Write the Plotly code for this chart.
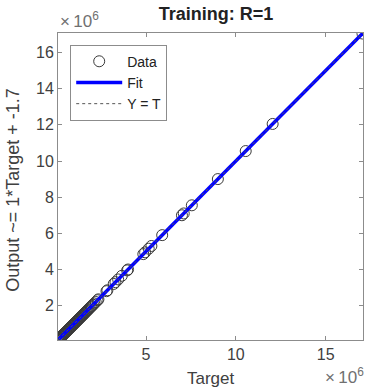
import plotly.graph_objects as go

# Data (values in units of 1e6)
targets = [0.10, 0.14, 0.18, 0.21, 0.25, 0.28, 0.31, 0.35, 0.38, 0.42, 0.45, 0.48,
           0.52, 0.55, 0.58, 0.62, 0.66, 0.70, 0.73, 0.77, 0.80, 0.84, 0.88, 0.91,
           0.95, 0.99, 1.02, 1.06, 1.10, 1.13, 1.17, 1.21, 1.25, 1.28, 1.32, 1.36,
           1.40, 1.44, 1.48, 1.52, 1.56, 1.60, 1.65, 1.70, 1.75, 1.80, 1.86, 1.92,
           1.98, 2.05, 2.12, 2.20, 2.30, 2.35, 2.80, 2.85, 3.20, 3.30, 3.45, 3.65,
           3.95, 4.00, 4.85, 4.95, 5.15, 5.30, 5.90, 7.00, 7.10, 7.55, 9.00, 10.55,
           12.05, 17.05]
outputs = [0.10, 0.14, 0.18, 0.21, 0.25, 0.28, 0.31, 0.35, 0.38, 0.42, 0.45, 0.48,
           0.52, 0.55, 0.58, 0.62, 0.66, 0.70, 0.73, 0.77, 0.80, 0.84, 0.88, 0.91,
           0.95, 0.99, 1.02, 1.06, 1.10, 1.13, 1.17, 1.21, 1.25, 1.28, 1.32, 1.36,
           1.40, 1.44, 1.48, 1.52, 1.56, 1.60, 1.65, 1.70, 1.75, 1.80, 1.86, 1.92,
           1.98, 2.05, 2.12, 2.20, 2.30, 2.35, 2.80, 2.85, 3.20, 3.30, 3.45, 3.65,
           3.95, 4.00, 4.85, 4.95, 5.15, 5.30, 5.90, 7.00, 7.10, 7.55, 9.00, 10.55,
           12.05, 17.05]
axis_min = 0.10
axis_max = 17.08
x_ticks = [5, 10, 15]
y_ticks = [2, 4, 6, 8, 10, 12, 14, 16]
scale = 1e6

xs = [v * scale for v in targets]
ys = [v * scale for v in outputs]
lim = [axis_min * scale, axis_max * scale]
slope, intercept = 1.0, -1.7

txt = "#404040"
font = "Liberation Sans, Arial, sans-serif"

fig = go.Figure()
fig.add_trace(go.Scatter(x=xs, y=ys, mode="markers", name="Data",
                         marker=dict(symbol="circle-open", size=11,
                                     color="#3a3a3a", line=dict(width=1))))
fig.add_trace(go.Scatter(x=lim, y=[slope * v + intercept for v in lim], mode="lines",
                         name="Fit", line=dict(color="#0000ff", width=3.5)))
fig.add_trace(go.Scatter(x=lim, y=lim, mode="lines", name="Y = T",
                         line=dict(color="#555555", width=1, dash="dot")))

axis_common = dict(range=lim, showgrid=False, zeroline=False, showline=True,
                   linecolor="#8c8c8c", linewidth=1, mirror="ticks", ticks="inside",
                   ticklen=4, tickcolor="#8c8c8c",
                   tickfont=dict(family=font, size=16, color=txt))
fig.update_xaxes(**axis_common, tickvals=[v * scale for v in x_ticks],
                 ticktext=[str(v) for v in x_ticks])
fig.update_yaxes(**axis_common, tickvals=[v * scale for v in y_ticks],
                 ticktext=[str(v) for v in y_ticks])

fig.update_layout(
    width=366, height=390,
    margin=dict(l=58, r=3, t=33, b=50),
    paper_bgcolor="white", plot_bgcolor="white",
    font=dict(family=font, size=16, color=txt),
    title=dict(text="<b>Training: R=1</b>", x=0.59, xanchor="center",
               y=0.966, yanchor="middle", font=dict(size=18, color="#222222")),
    legend=dict(x=0.04, y=0.962, xanchor="left", yanchor="top",
                bgcolor="white", bordercolor="#8c8c8c", borderwidth=1,
                font=dict(size=14, color="#222222"), itemwidth=46,
                tracegroupgap=0),
    showlegend=True,
    annotations=[
        dict(text="Target", xref="paper", yref="paper", x=0.5, y=-0.125,
             xanchor="center", yanchor="middle", showarrow=False,
             font=dict(size=17, color=txt)),
        dict(text="Output ~= 1*Target + -1.7", xref="paper", yref="paper",
             x=-0.15, y=0.49, xanchor="center", yanchor="middle", textangle=-90,
             showarrow=False, font=dict(size=18, color=txt)),
        dict(text="×\u200910<sup>6</sup>", xref="paper", yref="paper", x=0.0, y=1.0,
             xanchor="left", yanchor="bottom", showarrow=False,
             font=dict(size=17, color="#707070")),
        dict(text="×\u200910<sup>6</sup>", xref="paper", yref="paper", x=1.01, y=-0.16,
             xanchor="right", yanchor="bottom", showarrow=False,
             font=dict(size=17, color="#707070")),
    ],
)

fig.write_html("out.html",
               config={"displayModeBar": False},
               post_script="document.body.style.margin='0';"
                           "document.body.style.overflow='hidden';")
